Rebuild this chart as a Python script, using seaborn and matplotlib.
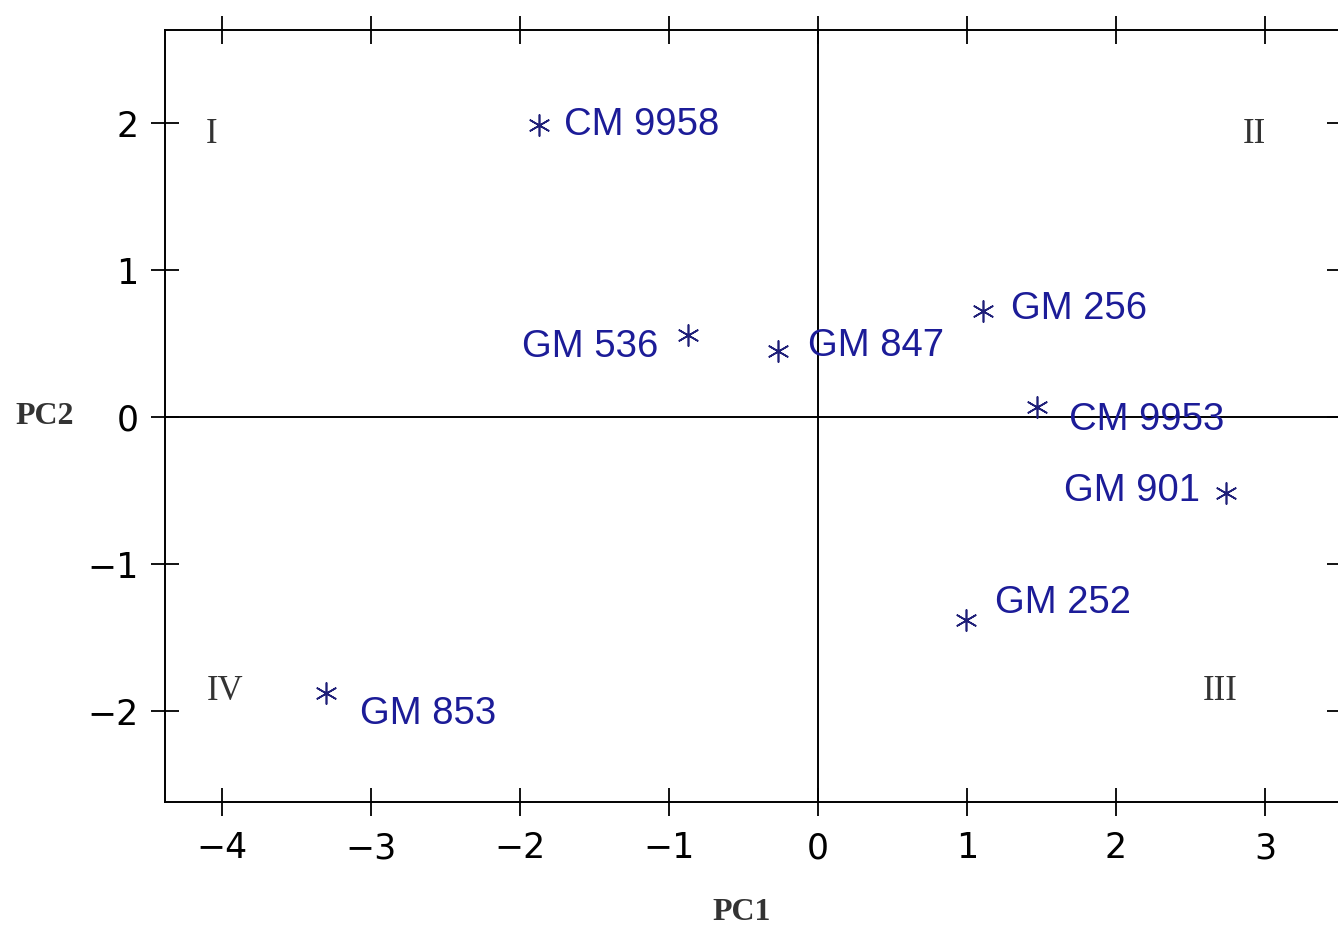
import matplotlib
matplotlib.use("Agg")
import matplotlib.pyplot as plt
import seaborn as sns
import pandas as pd

# ---- data ----
genotypes = ["CM 9958", "GM 536", "GM 847", "GM 256", "CM 9953", "GM 901", "GM 252", "GM 853"]
pc1 = [-1.87, -0.87, -0.27, 1.11, 1.47, 2.74, 0.99, -3.30]
pc2 = [1.99, 0.56, 0.45, 0.72, 0.07, -0.52, -1.38, -1.88]
quadrants = ["I", "II", "III", "IV"]
x_ticks = [-4, -3, -2, -1, 0, 1, 2, 3]
y_ticks = [-2, -1, 0, 1, 2]

# ---- layout (label offsets in pixels, alignment) ----
label_offsets = [(25, 0, "left"), (-30, -12, "right"), (30, 5, "left"), (28, 2, "left"),
                 (32, -13, "left"), (-26, 2, "right"), (29, 17, "left"), (34, -21, "left")]
quad_pos = [(-4.07, 1.92), (2.93, 1.92), (2.70, -1.87), (-3.98, -1.87)]

df = pd.DataFrame({"PC1": pc1, "PC2": pc2, "Genotype": genotypes})

sns.set_theme(style="white")
plt.rcParams["font.family"] = ["DejaVu Sans"]

W, H = 1338, 931
fig = plt.figure(figsize=(W / 100, H / 100), dpi=100)
ax = fig.add_axes([165 / W, (H - 802) / H, (1341 - 165) / W, (802 - 30) / H])

ax.axhline(0, color="black", lw=1.4, zorder=1)
ax.axvline(0, color="black", lw=1.4, zorder=1)

sns.scatterplot(data=df, x="PC1", y="PC2", ax=ax, marker=(6, 2, 0), s=230,
                color="#1f1f78", edgecolor="#1f1f78", linewidth=1.2, zorder=3, legend=False)

for (x, y, name), (dx, dy, ha) in zip(zip(pc1, pc2, genotypes), label_offsets):
    ax.annotate(name, (x, y), xytext=(dx, dy), textcoords="offset pixels",
                ha=ha, va="center", fontsize=27.5, color="#1c1c98",
                family=["Liberation Sans", "DejaVu Sans"])

for q, (qx, qy) in zip(quadrants, quad_pos):
    ax.text(qx, qy, q, ha="center", va="center", fontsize=25, color="#333333",
            family=["Liberation Serif", "DejaVu Serif"])

ax.set_xlim(-4.383, 3.51)
ax.set_ylim(-2.619, 2.633)
ax.set_xticks(x_ticks)
ax.set_yticks(y_ticks)
ax.set_xticklabels([("\u2212" + str(-t)) if t < 0 else str(t) for t in x_ticks])
ax.set_yticklabels([("\u2212" + str(-t)) if t < 0 else str(t) for t in y_ticks])
ax.set_xlabel("")
ax.set_ylabel("")

for sp in ax.spines.values():
    sp.set_visible(True)
    sp.set_color("black")
    sp.set_linewidth(1.4)

ax.tick_params(axis="both", which="both", direction="inout", length=20, width=1.3,
               color="black", labelsize=25, labelcolor="black",
               top=True, right=True, bottom=True, left=True,
               labeltop=False, labelright=False)
ax.tick_params(axis="x", pad=11)
ax.tick_params(axis="y", pad=9)

fig.text(742 / W, 1 - 913 / H, "PC1", ha="center", va="center", fontsize=23,
         fontweight="bold", color="#333333", family=["Liberation Serif", "DejaVu Serif"])
fig.text(45 / W, 1 - 417 / H, "PC2", ha="center", va="center", fontsize=23,
         fontweight="bold", color="#333333", family=["Liberation Serif", "DejaVu Serif"])

fig.savefig("out.png", dpi=100, facecolor="white")
